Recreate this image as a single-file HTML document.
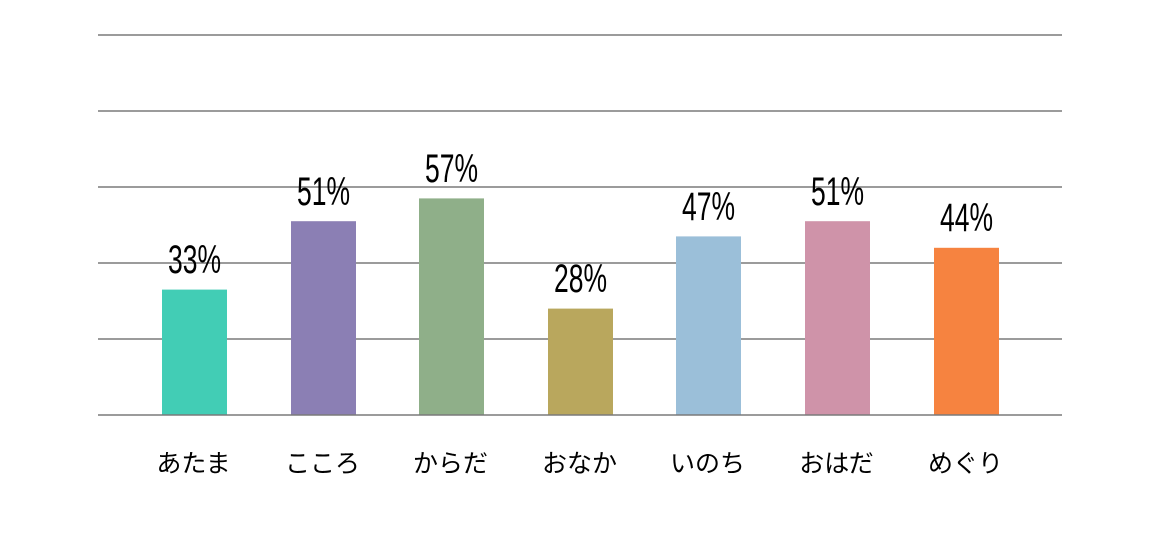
<!DOCTYPE html>
<html><head><meta charset="utf-8"><style>html,body{margin:0;padding:0;background:#fff}svg{display:block}</style></head>
<body>
<svg width="1166" height="559" xmlns="http://www.w3.org/2000/svg">
<g stroke="#7a7a7a" stroke-width="1.5">
<line x1="98" x2="1062" y1="35" y2="35"/>
<line x1="98" x2="1062" y1="111" y2="111"/>
<line x1="98" x2="1062" y1="187" y2="187"/>
<line x1="98" x2="1062" y1="263" y2="263"/>
<line x1="98" x2="1062" y1="339" y2="339"/>
</g>
<rect x="162" y="289.6" width="65" height="125.4" fill="#42cdb5"/>
<rect x="291" y="221.2" width="65" height="193.8" fill="#8b7fb4"/>
<rect x="419" y="198.4" width="65" height="216.6" fill="#8faf89"/>
<rect x="548" y="308.6" width="65" height="106.4" fill="#b9a75d"/>
<rect x="676" y="236.4" width="65" height="178.6" fill="#9bbfd9"/>
<rect x="805" y="221.2" width="65" height="193.8" fill="#cf93a9"/>
<rect x="934" y="247.8" width="65" height="167.2" fill="#f68340"/>
<line x1="98" x2="1062" y1="415" y2="415" stroke="#7a7a7a" stroke-width="1.5"/>
<g font-family="Liberation Sans, sans-serif" font-size="40" fill="#000" text-anchor="middle">
<text x="194.5" y="273" textLength="53" lengthAdjust="spacingAndGlyphs">33%</text>
<text x="323.5" y="205" textLength="53" lengthAdjust="spacingAndGlyphs">51%</text>
<text x="451.5" y="182" textLength="53" lengthAdjust="spacingAndGlyphs">57%</text>
<text x="580.5" y="292" textLength="53" lengthAdjust="spacingAndGlyphs">28%</text>
<text x="708.5" y="220" textLength="53" lengthAdjust="spacingAndGlyphs">47%</text>
<text x="837.5" y="205" textLength="53" lengthAdjust="spacingAndGlyphs">51%</text>
<text x="966.5" y="231" textLength="53" lengthAdjust="spacingAndGlyphs">44%</text>
</g>
<g font-family="Liberation Sans, Noto Sans CJK JP, sans-serif" font-size="25" fill="#000" text-anchor="middle">
<text x="193.5" y="472">あたま</text>
<text x="322.5" y="472">こころ</text>
<text x="450.5" y="472">からだ</text>
<text x="579.5" y="472">おなか</text>
<text x="707.5" y="472">いのち</text>
<text x="836.5" y="472">おはだ</text>
<text x="965.5" y="472">めぐり</text>
</g>
</svg>
</body></html>
